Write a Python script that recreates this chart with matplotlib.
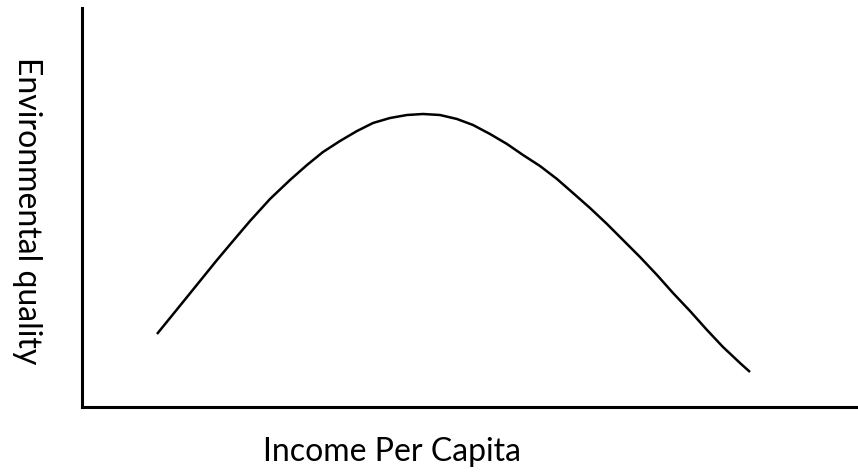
import matplotlib
matplotlib.use("Agg")
import matplotlib.pyplot as plt

# Data (arbitrary units: income per capita vs environmental quality)
income = [75, 88, 101, 118, 135, 151, 168, 188, 208, 225, 241, 258, 275,
          291, 308, 325, 341, 358, 375, 391, 408, 425, 441, 458, 475, 491,
          508, 525, 541, 558, 575, 591, 608, 625, 641, 658, 668]
quality = [73, 89, 105, 126, 147, 166, 186, 208, 227, 242, 255, 266, 276,
           284, 289, 292, 293, 292, 288, 282, 273, 263, 252, 241, 228, 214,
           199, 183, 167, 150, 132, 114, 96, 77, 60, 44, 35]
x_label = "Income Per Capita"
y_label = "Environmental quality"

W, H = 858, 473
fig = plt.figure(figsize=(W / 100, H / 100), dpi=100)
ax = fig.add_axes([82 / W, (H - 407) / H, (W - 82) / W, (407 - 8) / H])
ax.plot(income, quality, color="black", lw=1.8, solid_joinstyle="round",
        solid_capstyle="butt")
ax.set_xlim(0, W - 82)
ax.set_ylim(0, 407 - 8)
for s in ["top", "right"]:
    ax.spines[s].set_visible(False)
for s in ["left", "bottom"]:
    ax.spines[s].set_linewidth(2.2)
    ax.spines[s].set_color("black")
ax.set_xticks([])
ax.set_yticks([])
ax.patch.set_alpha(0)

font = ["Lato", "DejaVu Sans"]
fig.text(392 / W, (H - 452) / H, x_label, ha="center", va="center",
         fontsize=23, family=font)
fig.text(27 / W, (H - 211) / H, y_label, ha="center", va="center",
         rotation=270, fontsize=23, family=font)

fig.savefig("out.png", dpi=100)
